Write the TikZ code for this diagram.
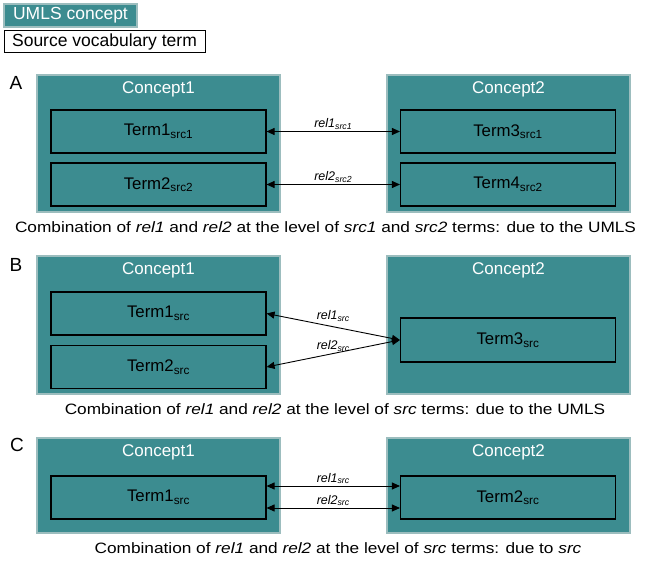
\documentclass[tikz,border=0pt]{standalone}
\usepackage{fontspec}
\setmainfont{Liberation Sans}
\newfontfamily\capfont[FakeStretch=1.15]{Liberation Sans}
\usetikzlibrary{arrows.meta}

\definecolor{umlsfill}{HTML}{3C8C90}
\definecolor{umlsedge}{HTML}{9CBDBE}

\tikzset{
	concept/.style={fill=umlsfill, draw=umlsedge, line width=1.6pt, inner sep=0pt, minimum width=243pt},
	ctitle/.style={text=white, font=\fontsize{17}{20}\selectfont},
	term/.style={draw=black, line width=1.1pt, inner sep=0pt, minimum width=215pt, minimum height=43pt, font=\fontsize{16.8}{19}\selectfont},
	rel/.style={{Triangle[length=8pt,width=7pt]}-{Triangle[length=8pt,width=7pt]}, line width=0.9pt},
	rellabel/.style={font=\fontsize{12.5}{14}\selectfont\itshape, inner sep=1.5pt},
	caption/.style={font=\capfont\fontsize{15}{18}\selectfont},
	panel/.style={font=\fontsize{19}{22}\selectfont}
}

\begin{document}
\begin{tikzpicture}[x=1pt, y=-1pt]
		\useasboundingbox (0,0) rectangle (650,561);

		% legend
		\node[fill=umlsfill, draw=umlsedge, line width=1.6pt, text=white, minimum width=133pt, minimum height=23pt, inner sep=0pt, font=\fontsize{17.5}{20}\selectfont] (legumls) at (70.5,15.5) {UMLS concept};
		\node[draw=black, line width=1pt, minimum width=201pt, minimum height=22pt, inner sep=0pt, font=\fontsize{17.5}{20}\selectfont] (legsrc) at (104.5,42) {Source vocabulary term};

		% A
		\node[panel] (pa) at (16,83) {A};
		\node[concept, minimum height=137pt] (c1a) at (158.5,143.5) {};
		\node[concept, minimum height=137pt] (c2a) at (508.5,143.5) {};
		\node[ctitle] (c1at) at ([yshift=-15pt]c1a.north) {Concept1};
		\node[ctitle] (c2at) at ([yshift=-15pt]c2a.north) {Concept2};
		\node[term] (t1a) at (158.5,131.5) {Term1\textsubscript{src1}};
		\node[term] (t2a) at (158.5,184.5) {Term2\textsubscript{src2}};
		\node[term] (t3a) at (508,131.5) {Term3\textsubscript{src1}};
		\node[term] (t4a) at (508,184.5) {Term4\textsubscript{src2}};
		\draw[rel] (t1a.east) -- (t3a.west) node[midway, above, rellabel] {rel1\textsubscript{src1}};
		\draw[rel] (t2a.east) -- (t4a.west) node[midway, above, rellabel] {rel2\textsubscript{src2}};
		\node[caption] (capa) at (325.5,227) {Combination of \textit{rel1} and \textit{rel2} at the level of \textit{src1} and \textit{src2} terms: due to the UMLS};

		% B
		\node[panel] (pb) at (16,265) {B};
		\node[concept, minimum height=138pt] (c1b) at (158.5,325) {};
		\node[concept, minimum height=138pt] (c2b) at (508.5,325) {};
		\node[ctitle] (c1bt) at ([yshift=-15pt]c1b.north) {Concept1};
		\node[ctitle] (c2bt) at ([yshift=-15pt]c2b.north) {Concept2};
		\node[term] (t1b) at (158.5,313.5) {Term1\textsubscript{src}};
		\node[term] (t2b) at (158.5,367) {Term2\textsubscript{src}};
		\node[term, minimum height=44pt] (t3b) at (508,340) {Term3\textsubscript{src}};
		\draw[rel] (t1b.east) -- (t3b.west) node[midway, above=3pt, rellabel] {rel1\textsubscript{src}};
		\draw[rel] (t2b.east) -- (t3b.west) node[midway, above, rellabel] {rel2\textsubscript{src}};
		\node[caption] (capb) at (335,409) {Combination of \textit{rel1} and \textit{rel2} at the level of \textit{src} terms: due to the UMLS};

		% C
		\node[panel] (pc) at (17,445) {C};
		\node[concept, minimum height=95pt] (c1c) at (158.5,485.5) {};
		\node[concept, minimum height=95pt] (c2c) at (508.5,485.5) {};
		\node[ctitle] (c1ct) at ([yshift=-15pt]c1c.north) {Concept1};
		\node[ctitle] (c2ct) at ([yshift=-15pt]c2c.north) {Concept2};
		\node[term] (t1c) at (158.5,497.5) {Term1\textsubscript{src}};
		\node[term] (t2c) at (508,497.5) {Term2\textsubscript{src}};
		\draw[rel] ([yshift=11.5pt]t1c.east) -- ([yshift=11.5pt]t2c.west) node[midway, above, rellabel] {rel1\textsubscript{src}};
		\draw[rel] ([yshift=-10.5pt]t1c.east) -- ([yshift=-10.5pt]t2c.west) node[midway, above, rellabel] {rel2\textsubscript{src}};
		\node[caption] (capc) at (338,548) {Combination of \textit{rel1} and \textit{rel2} at the level of \textit{src} terms: due to \textit{src}};
	\end{tikzpicture}
\end{document}
